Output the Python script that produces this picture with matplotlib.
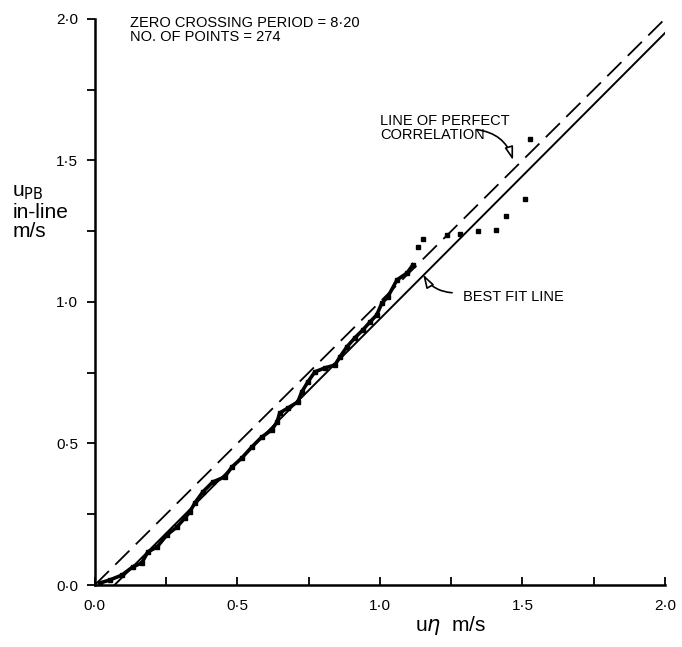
import numpy as np
import matplotlib
matplotlib.use("Agg")
from matplotlib import pyplot as plt

plt.rcParams['font.family'] = ['Liberation Sans', 'DejaVu Sans']

# measured points, dense part of the cloud
cloud_x = [0.018, 0.053, 0.095, 0.133, 0.165, 0.186, 0.218, 0.253, 0.288, 0.316,
           0.333, 0.351, 0.379, 0.414, 0.456, 0.481, 0.516, 0.551, 0.586, 0.621,
           0.639, 0.649, 0.677, 0.712, 0.726, 0.747, 0.772, 0.807, 0.842, 0.860,
           0.884, 0.912, 0.940, 0.965, 0.989, 1.007, 1.028, 1.060, 1.095, 1.116]
cloud_y = [0.007, 0.018, 0.035, 0.064, 0.078, 0.117, 0.134, 0.177, 0.205, 0.237,
           0.258, 0.290, 0.329, 0.364, 0.382, 0.417, 0.449, 0.488, 0.523, 0.548,
           0.576, 0.608, 0.625, 0.647, 0.682, 0.717, 0.753, 0.767, 0.777, 0.806,
           0.841, 0.873, 0.901, 0.929, 0.954, 0.996, 1.018, 1.078, 1.102, 1.131]

# scattered points at the top end
sparse_x = [1.133, 1.151, 1.235, 1.281, 1.344, 1.407, 1.442, 1.509, 1.526]
sparse_y = [1.194, 1.223, 1.237, 1.240, 1.251, 1.254, 1.304, 1.364, 1.576]

fit_slope = 1.01
fit_icpt = -0.07

ticks = [0.0, 0.5, 1.0, 1.5, 2.0]
tick_labels = ["0·0", "0·5", "1·0", "1·5", "2·0"]

fig = plt.figure(figsize=(6.82, 6.47), dpi=100)
ax = fig.add_axes([0.139, 0.0958, 0.836, 0.875])

ax.plot(cloud_x, cloud_y, color="black", lw=2.6, marker="s", ms=3)
ax.plot(sparse_x, sparse_y, ls="none", color="black", marker="s", ms=3)

xf = np.array([-fit_icpt/fit_slope, 2.0])
ax.plot(xf, fit_slope*xf + fit_icpt, color="black", lw=1.4)
ax.plot([0, 2.01], [0, 2.01], color="black", lw=1.3, dashes=(11, 5), clip_on=False)

ax.set_xlim(0, 2.0)
ax.set_ylim(0, 2.0)
for s in ["top", "right"]:
    ax.spines[s].set_visible(False)
for s in ["left", "bottom"]:
    ax.spines[s].set_linewidth(1.8)

ax.set_xticks(ticks)
ax.set_xticklabels(tick_labels, fontsize=11)
ax.set_xticks([0.25, 0.75, 1.25, 1.75], minor=True)
ax.set_yticks(ticks)
ax.set_yticklabels(tick_labels, fontsize=11)
ax.set_yticks([0.25, 0.75, 1.25, 1.75], minor=True)
ax.tick_params(axis="x", which="both", direction="in", length=6, width=1.3, pad=10)
ax.tick_params(axis="y", which="both", direction="out", length=6, width=1.3, pad=6)

ax.text(0.123, 1.96, "ZERO CROSSING PERIOD = 8·20\nNO. OF POINTS = 274",
        fontsize=10.5, va="center", ha="left", linespacing=1.0)

ax.text(1.0, 1.615, "LINE OF PERFECT\nCORRELATION", fontsize=10.5,
        va="center", ha="left", linespacing=1.05)
ax.annotate("", xy=(1.470, 1.491), xytext=(1.33, 1.61),
            arrowprops=dict(arrowstyle="-|>,head_length=0.8,head_width=0.25",
                            fc="white", ec="black", lw=1.2,
                            connectionstyle="arc3,rad=-0.35"))

ax.text(1.291, 1.018, "BEST FIT LINE", fontsize=10.5, va="center", ha="left")
ax.annotate("", xy=(1.147, 1.106), xytext=(1.263, 1.032),
            arrowprops=dict(arrowstyle="-|>,head_length=0.8,head_width=0.25",
                            fc="white", ec="black", lw=1.2,
                            connectionstyle="arc3,rad=-0.3"))

fig.text(0.018, 0.672, "u$_{\\rm PB}$\nin-line\nm/s", fontsize=15, va="center",
         ha="left", linespacing=1.05)
fig.text(0.608, 0.034, "u$\\eta$  m/s", fontsize=15, va="center", ha="left")

fig.savefig("out.png", dpi=100)
